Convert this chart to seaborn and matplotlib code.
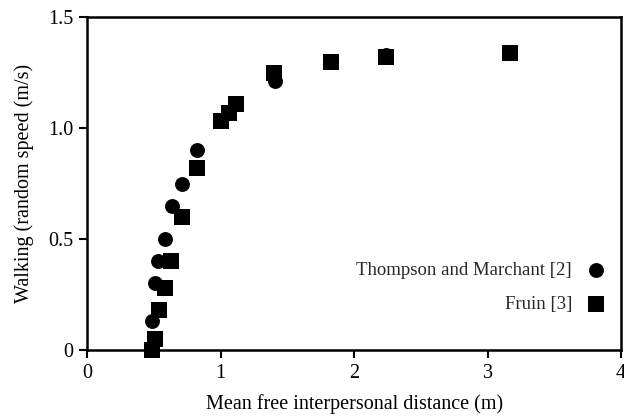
import matplotlib
matplotlib.use("Agg")
import matplotlib.pyplot as plt
import seaborn as sns
import pandas as pd

tm_x = [0.486, 0.51, 0.53, 0.58, 0.635, 0.71, 0.82, 1.41, 2.24]
tm_y = [0.13, 0.30, 0.40, 0.50, 0.65, 0.75, 0.90, 1.21, 1.33]
fr_x = [0.486, 0.51, 0.535, 0.58, 0.63, 0.71, 0.82, 1.00, 1.06, 1.115, 1.40, 1.83, 2.24, 3.17]
fr_y = [0.0, 0.05, 0.18, 0.28, 0.40, 0.60, 0.82, 1.03, 1.07, 1.11, 1.25, 1.30, 1.32, 1.34]
series = ["Thompson and Marchant [2]", "Fruin [3]"]
x_ticks = [0, 1, 2, 3, 4]
y_ticks = [0, 0.5, 1.0, 1.5]
y_labels = ["0", "0.5", "1.0", "1.5"]

df = pd.DataFrame({
    "x": tm_x + fr_x,
    "y": tm_y + fr_y,
    "src": [series[0]] * len(tm_x) + [series[1]] * len(fr_x),
})

sns.set_style("white")
plt.rcParams["font.family"] = ["Liberation Serif", "DejaVu Serif"]

fig = plt.figure(figsize=(6.24, 4.18), dpi=100)
ax = fig.add_axes([0.140, 0.163, 0.855, 0.796])

sns.scatterplot(data=df[df.src == series[0]], x="x", y="y", marker="o", s=115,
                color="black", edgecolor="black", linewidth=0, ax=ax, label=series[0], zorder=2)
sns.scatterplot(data=df[df.src == series[1]], x="x", y="y", marker="s", s=135,
                color="black", edgecolor="black", linewidth=0, ax=ax, label=series[1], zorder=3)
for coll in ax.collections:
    coll.set_clip_on(False)

ax.set_xlim(0, 4)
ax.set_ylim(0, 1.5)
ax.set_xticks(x_ticks)
ax.set_xticklabels([str(t) for t in x_ticks])
ax.set_yticks(y_ticks)
ax.set_yticklabels(y_labels)
ax.tick_params(axis="both", direction="out", length=6, width=1.5, labelsize=14.5,
               colors="black", bottom=True, left=True, pad=4)
for sp in ax.spines.values():
    sp.set_color("black")
    sp.set_linewidth(1.8)
ax.set_xlabel("Mean free interpersonal distance (m)", fontsize=14.5, color="black", labelpad=8)
ax.set_ylabel("Walking (random speed (m/s)", fontsize=14.5, color="black", labelpad=10)

ax.legend(loc="lower right", bbox_to_anchor=(0.9955, 0.087), frameon=False, markerfirst=False,
          fontsize=13.5, handletextpad=0.48, handlelength=1.6, labelspacing=0.91,
          borderaxespad=0.0)

fig.savefig("out.png", dpi=100)
